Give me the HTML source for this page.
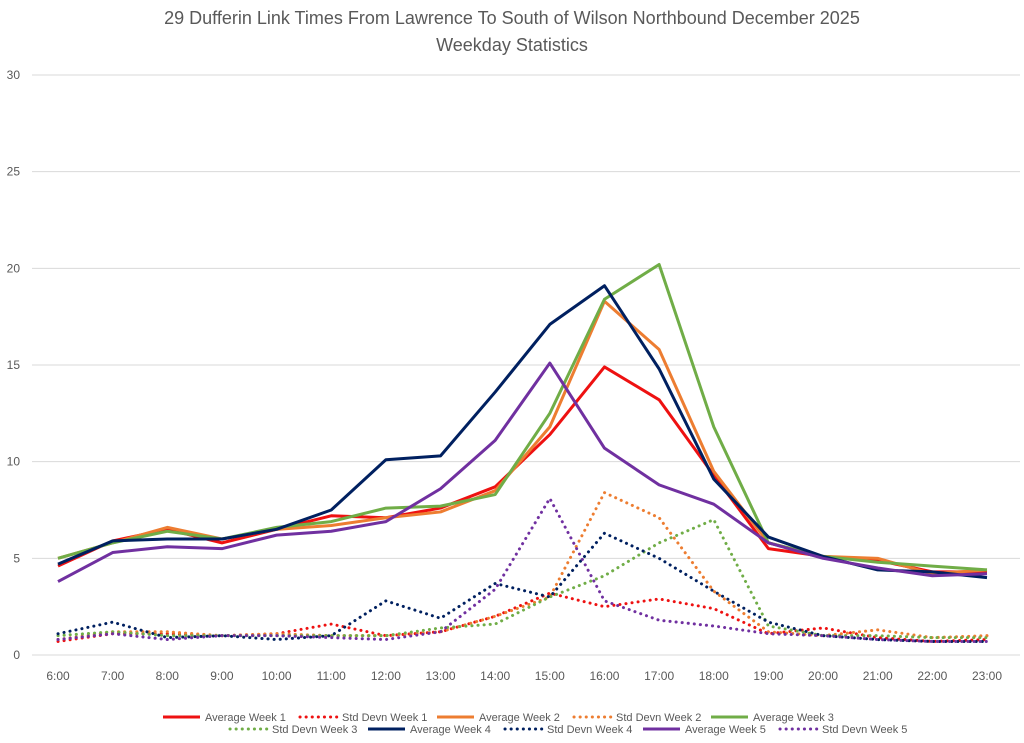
<!DOCTYPE html>
<html><head><meta charset="utf-8"><style>
body{margin:0;background:#fff;font-family:"Liberation Sans",sans-serif}
svg text{font-family:"Liberation Sans",sans-serif;fill:#595959}
</style></head><body>
<svg id="c" width="1024" height="738">
<text x="512" y="24" text-anchor="middle" font-size="18">29 Dufferin Link Times From Lawrence To South of Wilson Northbound December 2025</text>
<text x="512" y="51" text-anchor="middle" font-size="18">Weekday Statistics</text>
<g id="grid"></g><g id="series"></g><g id="legend"></g>
</svg>
<script>
const categories=["6:00","7:00","8:00","9:00","10:00","11:00","12:00","13:00","14:00","15:00","16:00","17:00","18:00","19:00","20:00","21:00","22:00","23:00"];
const yTicks=[0,5,10,15,20,25,30];
const avg1=[4.6,5.9,6.5,5.8,6.5,7.2,7.1,7.6,8.7,11.4,14.9,13.2,9.3,5.5,5.1,4.9,4.3,4.3];
const std1=[0.7,1.1,1.1,1.0,1.1,1.6,1.0,1.2,2.0,3.2,2.5,2.9,2.4,1.1,1.4,0.9,0.7,0.8];
const avg2=[5.0,5.8,6.6,6.0,6.5,6.7,7.1,7.4,8.5,11.8,18.3,15.8,9.5,5.8,5.1,5.0,4.2,4.4];
const std2=[0.8,1.2,1.2,1.0,1.1,1.0,1.0,1.2,2.0,3.0,8.4,7.1,3.3,1.2,1.0,1.3,0.9,1.0];
const avg3=[5.0,5.8,6.4,6.0,6.6,6.9,7.6,7.7,8.3,12.5,18.4,20.2,11.8,5.8,5.1,4.8,4.6,4.4];
const std3=[1.0,1.2,1.0,1.0,1.0,1.0,1.0,1.4,1.6,3.0,4.1,5.8,7.0,1.5,1.0,1.0,0.9,0.9];
const avg4=[4.7,5.9,6.0,6.0,6.5,7.5,10.1,10.3,13.6,17.1,19.1,14.8,9.1,6.1,5.1,4.4,4.3,4.0];
const std4=[1.1,1.7,0.9,1.0,0.8,1.0,2.8,1.9,3.7,3.0,6.3,5.0,3.3,1.7,1.0,0.8,0.7,0.7];
const avg5=[3.8,5.3,5.6,5.5,6.2,6.4,6.9,8.6,11.1,15.1,10.7,8.8,7.8,5.8,5.0,4.5,4.1,4.2];
const std5=[0.8,1.1,0.8,1.0,1.0,0.9,0.8,1.2,3.4,8.1,2.8,1.8,1.5,1.1,1.0,0.8,0.7,0.7];
const seriesNames=["Average Week 1","Std Devn Week 1","Average Week 2","Std Devn Week 2","Average Week 3","Std Devn Week 3","Average Week 4","Std Devn Week 4","Average Week 5","Std Devn Week 5"];

const NS="http://www.w3.org/2000/svg";
const X0=58,X1=987,Y0=655,Y30=75;
const x=i=>X0+i*(X1-X0)/(categories.length-1);
const y=v=>Y0-v*(Y0-Y30)/30;
function mk(t,a,p){const e=document.createElementNS(NS,t);for(const k in a)e.setAttribute(k,a[k]);p.appendChild(e);return e;}
const grid=document.getElementById('grid');
yTicks.forEach(v=>{
 const l=mk('line',{x1:32,x2:1020,y1:y(v),y2:y(v),stroke:'#d9d9d9','stroke-width':1},grid);
 
 
 const t=mk('text',{x:20,y:y(v)+4,'text-anchor':'end','font-size':12},grid);t.textContent=v;
 
 
});
categories.forEach((c,i)=>{
 const t=mk('text',{x:x(i),y:680,'text-anchor':'middle','font-size':12},grid);t.textContent=c;
 
 
});
const colors=['#ee1111','#ed7d31','#70ad47','#002060','#7030a0'];
const data=[avg1,std1,avg2,std2,avg3,std3,avg4,std4,avg5,std5];
const sg=document.getElementById('series');
// draw std first then averages
[1,3,5,7,9,0,2,4,6,8].forEach(k=>{
 const d=data[k],dotted=k%2===1,col=colors[Math.floor(k/2)];
 const p=mk('polyline',{points:d.map((v,i)=>x(i)+','+y(v)).join(' '),fill:'none',stroke:col,'stroke-width':3,'stroke-linejoin':'round'},sg);
 if(dotted){p.setAttribute('stroke-dasharray','0.1 6');p.setAttribute('stroke-linecap','round');}
 
 
});
const lg=document.getElementById('legend');
const pos=[[163,717],[300,717],[437,717],[574,717],[711,717],[230,729],[368,729],[505,729],[643,729],[780,729]];
const order=[0,1,2,3,4,5,6,7,8,9];
order.forEach((k,j)=>{
 const [lx,ly]=pos[j],col=colors[Math.floor(k/2)];
 const l=mk('line',{x1:lx,x2:lx+37,y1:ly,y2:ly,stroke:col,'stroke-width':3},lg);
 if(k%2===1){l.setAttribute('stroke-dasharray','0.1 6');l.setAttribute('stroke-linecap','round');}
 
 
 const t=mk('text',{x:lx+42,y:ly+4,'font-size':11},lg);t.textContent=seriesNames[k];
 
 
});
</script>
</body></html>
